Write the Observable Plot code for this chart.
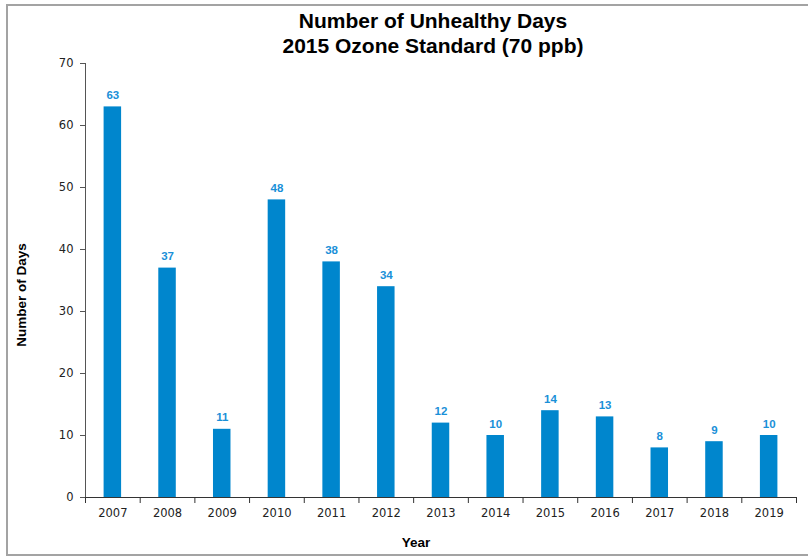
<!DOCTYPE html>
<html><head><meta charset="utf-8">
<script src="https://cdn.jsdelivr.net/npm/d3@7"></script>
<script src="https://cdn.jsdelivr.net/npm/@observablehq/plot@0.6"></script>
<style>
body{margin:0;background:#fff;}
#wrap{position:relative;width:808px;height:556px;overflow:hidden;font-family:"Liberation Sans",Arial,sans-serif;}
#border{position:absolute;left:6px;top:4px;width:900px;height:552px;box-sizing:border-box;border:2px solid #a3a3a3;}
#title{position:absolute;left:0;width:866px;top:8px;text-align:center;font-weight:bold;font-size:21px;line-height:25px;color:#000;}
#chart{position:absolute;left:0;top:58px;}
#ylab{position:absolute;left:21px;top:295px;transform:translate(-50%,-50%) rotate(-90deg);font-weight:bold;font-size:13.5px;white-space:nowrap;color:#000;}
#xlab{position:absolute;left:416px;top:542px;transform:translate(-50%,-50%);font-weight:bold;font-size:13.5px;color:#000;}
</style>
</head><body>
<div id="wrap">
<div id="border"></div>
<div id="title">Number of Unhealthy Days<br>2015 Ozone Standard (70 ppb)</div>
<div id="chart"></div>
<div id="ylab">Number of Days</div>
<div id="xlab">Year</div>
</div>
<script>
const years = ["2007","2008","2009","2010","2011","2012","2013","2014","2015","2016","2017","2018","2019"];
const days = [63,37,11,48,38,34,12,10,14,13,8,9,10];
const yTicks = [0,10,20,30,40,50,60,70];

const data = years.map((year, i) => ({year, days: days[i]}));
const W = 808, H = 498, ML = 85, MR = 12, MT = 5, MB = 59;
const bw = (W - ML - MR) / years.length;
const barW = 17.5;
const inset = (bw - barW) / 2;

const chart = Plot.plot({
  width: W, height: H,
  marginLeft: ML, marginRight: MR, marginTop: MT, marginBottom: MB,
  style: {fontFamily: "DejaVu Sans", fontSize: "11.5px", color: "#222", background: "transparent", overflow: "visible"},
  x: {type: "band", domain: years, padding: 0, round: false, label: null},
  y: {domain: [0, 70], label: null},
  marks: [
    Plot.barY(data, {x: "year", y: "days", fill: "#0086cd", insetLeft: inset, insetRight: inset}),
    Plot.ruleX(years.slice(0, 1), {x: d => d, dx: -bw / 2, y1: 0, y2: 70, stroke: "#555"}),
    Plot.ruleY([0], {stroke: "#333"}),
    Plot.ruleX(years, {x: d => d, dx: -bw / 2, y1: 0, y2: 0, insetTop: 0, insetBottom: -6, stroke: "#333"}),
    Plot.ruleX(years.slice(-1), {x: d => d, dx: bw / 2, y1: 0, y2: 0, insetTop: 0, insetBottom: -6, stroke: "#333"}),
    Plot.axisY({ticks: yTicks, tickSize: 5, tickPadding: 7, label: null, stroke: "#555", fill: "#222"}),
    Plot.axisX({tickSize: 0, tickPadding: 11, label: null, fill: "#222"}),
    Plot.text(data, {x: "year", y: "days", text: d => String(d.days), dy: -11.5, fill: "#1a90d8",
      fontWeight: "bold", fontFamily: "Liberation Sans", fontSize: 11.5})
  ]
});
document.getElementById("chart").appendChild(chart);
</script>
</body></html>
